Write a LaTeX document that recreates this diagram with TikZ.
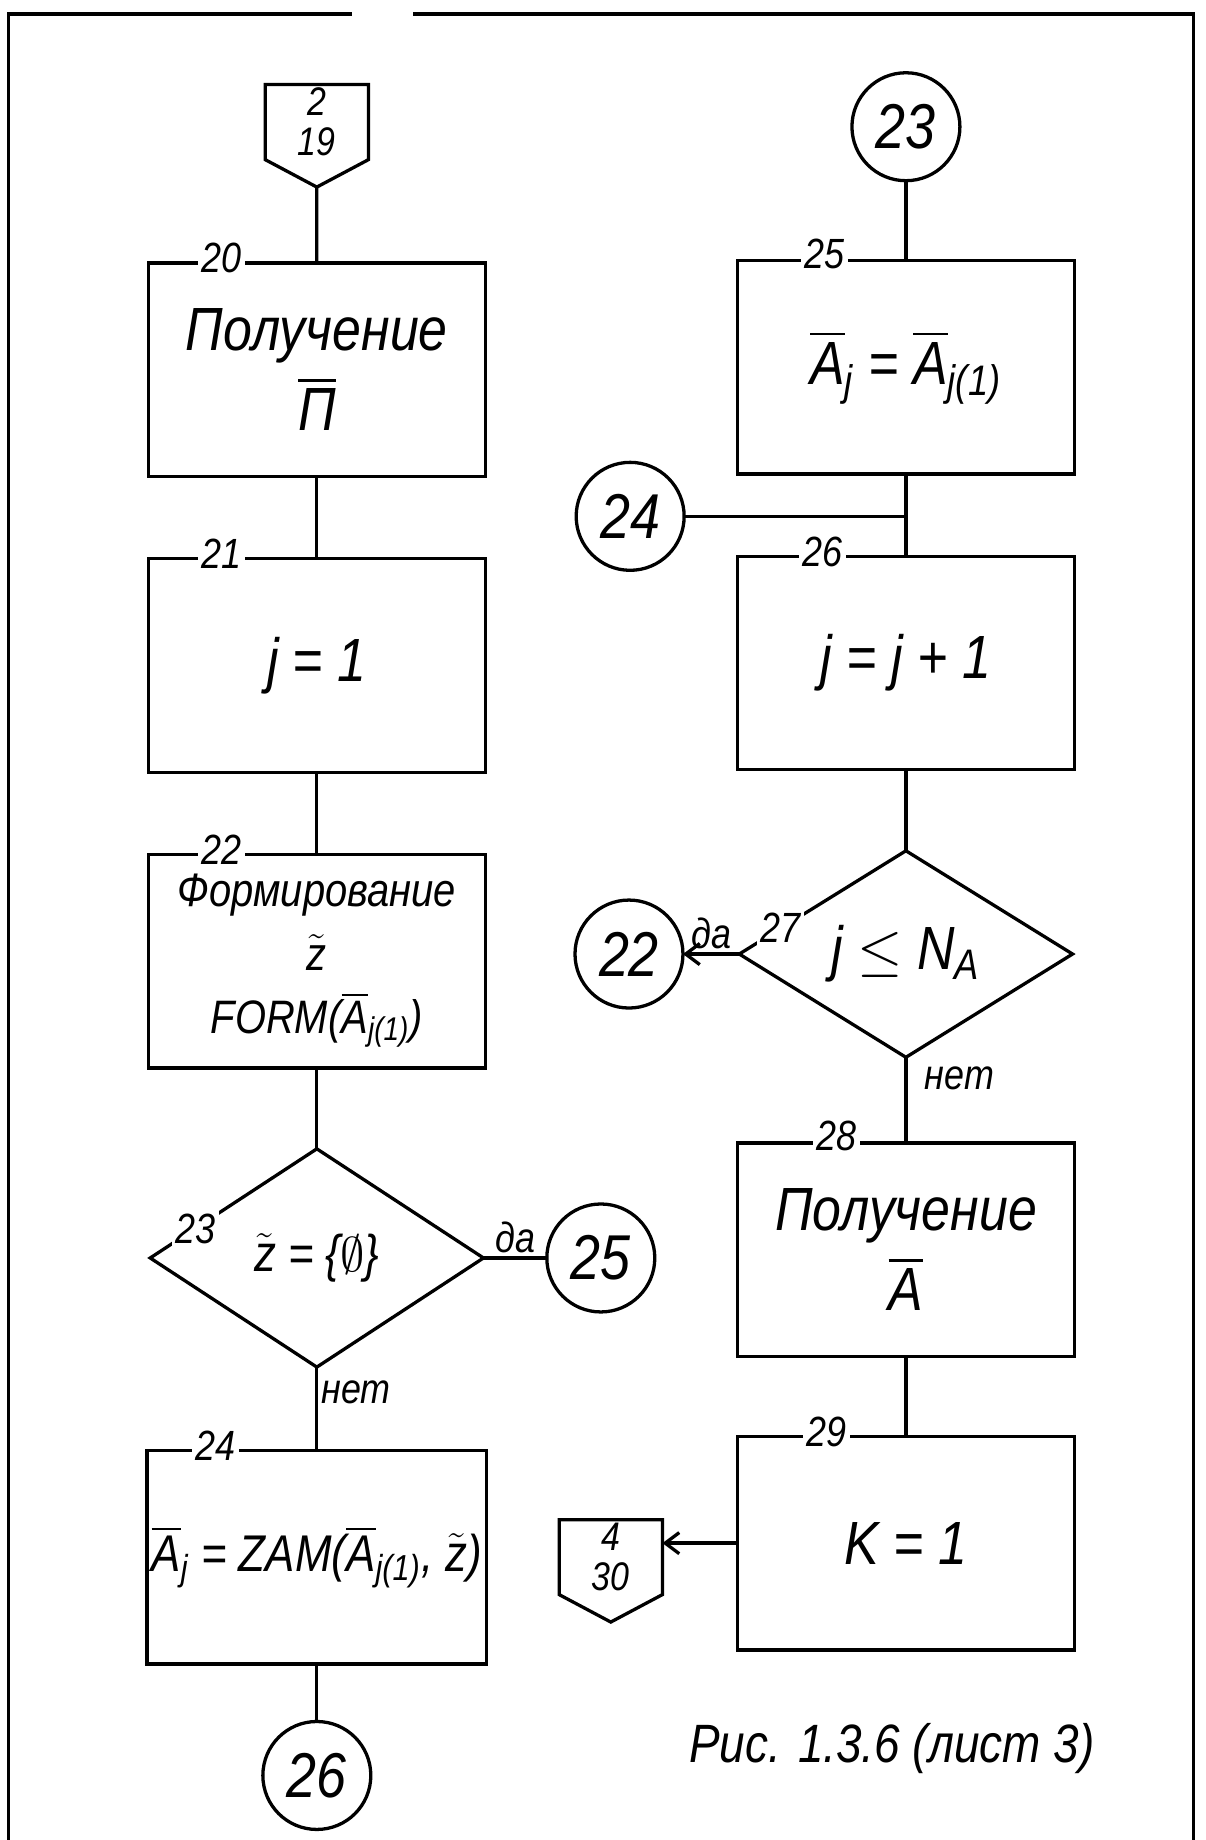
\documentclass[tikz,border=0pt]{standalone}
\usepackage{fontspec}
\usepackage{amsmath}
\setmainfont[FakeStretch=0.85]{Liberation Sans}
\usetikzlibrary{arrows.meta,positioning,shapes.geometric,shapes.symbols,calc}

\newcommand\Abar[1]{\ensuremath{\overline{\text{A}}_{\text{#1}}}}
\newcommand\ztil{\ensuremath{\tilde{\text{z}}}}

\begin{document}
\begin{tikzpicture}[
  x=0.5pt, y=-0.5pt,
  node distance=35pt,
  line width=1.4pt,
  outer sep=0pt,
  font=\itshape\fontsize{26}{30}\selectfont,
  box/.style={draw, minimum width=143.5pt, minimum height=91pt, align=center, inner sep=2pt},
  cond/.style={draw, diamond, aspect=1.5, minimum width=142pt, minimum height=93pt, inner sep=0pt, align=center},
  conn/.style={draw, circle, minimum size=46pt, inner sep=0pt, font=\itshape\fontsize{27}{30}\selectfont},
  page/.style={draw, signal, signal to=south, signal from=nowhere, signal pointer angle=124,
    minimum width=44pt, minimum height=0pt, inner xsep=1pt, inner ysep=1.5pt, align=center,
    font=\itshape\fontsize{17}{17}\selectfont},
  num/.style={fill=white, inner sep=1.5pt, font=\itshape\fontsize{18}{20}\selectfont},
  ans/.style={inner sep=2pt, font=\itshape\fontsize{18}{20}\selectfont},
  arrow/.style={-{Straight Barb[length=6pt, width=9pt]}}
]
\useasboundingbox (0,0) rectangle (1027,1568);

% sheet border
\draw (7,1568) -- (7,12) -- (300,12);
\draw (352,12) -- (1017,12) -- (1017,1568);

% left column
\node[page] (p219) at (270,104) {2\\19};
\node[box] (b20) at (270,315) {Получение\\[4pt]\ensuremath{\overline{\text{П}}}};
\node[box, below=of b20] (b21) {j = 1};
\node[box, below=of b21, font=\itshape\fontsize{20}{22}\selectfont] (b22) {Формирование\\[5pt]\ztil\\[5pt]FORM(\Abar{j(1)})};
\node[cond, below=34.5pt of b22, font=\itshape\fontsize{22}{26}\selectfont] (d23) {\ztil{} = \{\ensuremath{\emptyset}\}};
\node[box, below=35.5pt of d23, font=\itshape\fontsize{22}{26}\selectfont] (b24) {\Abar{j} = ZAM(\Abar{j(1)}, \ztil)};
\node[conn, below=24.5pt of b24] (c26) {26};
\node[conn, right=27pt of d23] (c25) {25};

% right column
\node[conn] (c23) at (772,108) {23};
\node[box, below=34pt of c23] (b25) {\Abar{j} = \Abar{j(1)}};
\node[box, below=of b25] (b26) {j = j + 1};
\node[cond, minimum height=88pt, below=34.5pt of b26] (d27) {j \ensuremath{\le} N\ensuremath{_{\text{A}}}};
\node[box, below=36.5pt of d27] (b28) {Получение\\[4pt]\ensuremath{\overline{\text{A}}}};
\node[box, below=34pt of b28] (b29) {K = 1};
\node[conn] (c24) at (537,440) {24};
\node[conn, left=24pt of d27] (c22) {22};
\node[page, left=32pt of b29, yshift=-6pt] (p430) {4\\30};

% block numbers
\node[num] (n20) at ([xshift=31pt,yshift=2pt]b20.north west) {20};
\node[num] (n21) at ([xshift=31pt,yshift=2pt]b21.north west) {21};
\node[num] (n22) at ([xshift=31pt,yshift=2pt]b22.north west) {22};
\node[num] (n24) at ([xshift=29pt,yshift=2pt]b24.north west) {24};
\node[num] (n25) at ([xshift=37pt,yshift=3pt]b25.north west) {25};
\node[num] (n26) at ([xshift=36pt,yshift=2pt]b26.north west) {26};
\node[num] (n28) at ([xshift=42pt,yshift=3pt]b28.north west) {28};
\node[num] (n29) at ([xshift=38pt,yshift=2pt]b29.north west) {29};
\node[num] (n23) at ($(d23.west)!0.27!(d23.north)$) {23};
\node[num] (n27) at ($(d27.west)!0.25!(d27.north)$) {27};

% flow lines
\draw (p219) -- (b20);
\draw (b20) -- (b21);
\draw (b21) -- (b22);
\draw (b22) -- (d23);
\draw (d23) -- node[ans, right, pos=0.3] (no23) {нет} (b24);
\draw (d23) -- node[ans, above] (yes23) {да} (c25);
\draw (b24) -- (c26);
\draw (c23) -- (b25);
\draw (b25) -- (b26);
\draw (c24) -- (c24 -| b25.south);
\draw (b26) -- (d27);
\draw[arrow] (d27) -- node[ans, above] (yes27) {да} (c22);
\draw (d27) -- node[ans, right=6pt, pos=0.25] (no27) {нет} (b28);
\draw (b28) -- (b29);
\draw[arrow] (b29.west) -- (b29.west -| p430.east);

\node[font=\itshape\fontsize{23}{26}\selectfont] (cap) at (760,1490) {Рис. 1.3.6 (лист 3)};
\end{tikzpicture}
\end{document}
